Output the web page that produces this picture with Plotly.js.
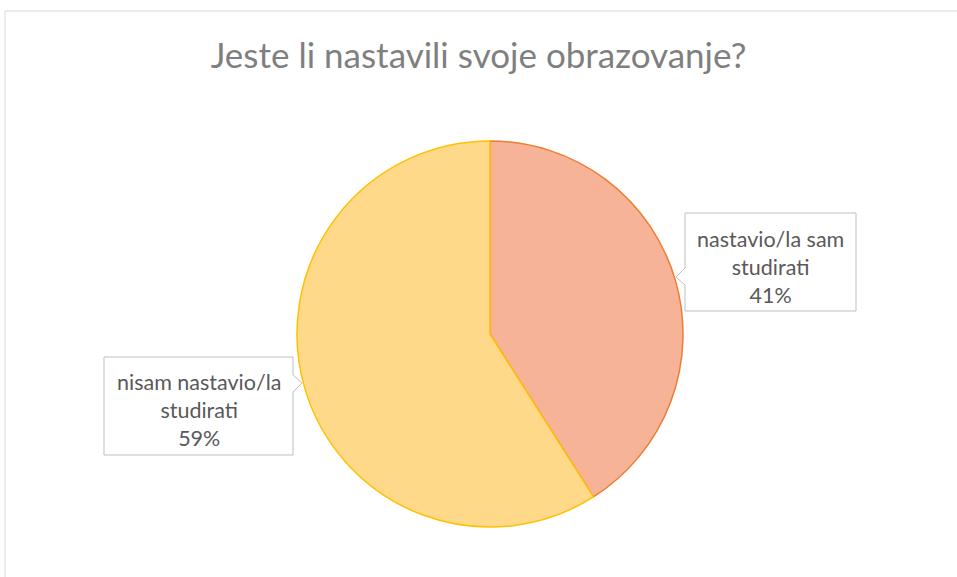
<!DOCTYPE html>
<html>
<head>
<meta charset="utf-8">
<script src="https://cdn.plot.ly/plotly-3.0.1.min.js"></script>
<style>html,body{margin:0;padding:0;background:#fff;}#chart{width:957px;height:577px;}</style>
</head>
<body>
<div id="chart"></div>
<script>
const titleText = "Jeste li nastavili svoje obrazovanje?";
const categories = ["nastavio/la sam<br>studirati", "nisam nastavio/la<br>studirati"];
const values = [41, 59];
const fillColors = ["#F6B398", "#FFD98A"];
const edgeColors = ["#ED7D31", "#FFC000"];

const W = 957, H = 577;
const px = x => x / W;
const py = y => 1 - y / H;

const total = values.reduce((a, b) => a + b, 0);
const pcts = values.map(v => Math.round(v / total * 100) + "%");

const trace = {
  type: "pie",
  values: values,
  labels: categories,
  sort: false,
  direction: "clockwise",
  rotation: 0,
  textinfo: "none",
  hoverinfo: "label+percent",
  marker: { colors: fillColors, line: { color: edgeColors, width: 1.5 } },
  domain: { x: [px(297), px(683)], y: [py(527), py(141)] },
  showlegend: false
};

function callout(pts) {
  return "M " + pts.map(p => px(p[0]) + "," + py(p[1])).join(" L ") + " Z";
}
const box1 = callout([[685,213],[856,213],[856,311],[685,311],[685,285],[676,277],[685,268]]);
const box2 = callout([[104,357],[293,357],[293,375],[302,383],[293,392],[293,455],[104,455]]);

const layout = {
  width: W, height: H,
  margin: { l: 0, r: 0, t: 0, b: 0 },
  paper_bgcolor: "#ffffff",
  title: {
    text: titleText,
    font: { family: "Lato, 'Open Sans', sans-serif", size: 35, color: "#7F7F7F" },
    x: 0.5, xanchor: "center", y: 1 - 56 / H, yanchor: "middle", yref: "container"
  },
  shapes: [
    { type: "rect", xref: "paper", yref: "paper", x0: px(5), x1: px(975), y0: py(600), y1: py(11),
      line: { color: "#D9D9D9", width: 1 }, fillcolor: "rgba(0,0,0,0)", layer: "below" },
    { type: "path", xref: "paper", yref: "paper", path: box1, fillcolor: "#ffffff",
      line: { color: "#BFBFBF", width: 1 }, layer: "above" },
    { type: "path", xref: "paper", yref: "paper", path: box2, fillcolor: "#ffffff",
      line: { color: "#BFBFBF", width: 1 }, layer: "above" }
  ],
  annotations: [
    { xref: "paper", yref: "paper", x: px(770.5), y: py(267), xanchor: "center", yanchor: "middle",
      text: categories[0] + "<br>" + pcts[0], showarrow: false, align: "center",
      font: { family: "Lato, 'Open Sans', sans-serif", size: 21.5, color: "#595959" } },
    { xref: "paper", yref: "paper", x: px(198.5), y: py(410), xanchor: "center", yanchor: "middle",
      text: categories[1] + "<br>" + pcts[1], showarrow: false, align: "center",
      font: { family: "Lato, 'Open Sans', sans-serif", size: 21.5, color: "#595959" } }
  ]
};

Plotly.newPlot("chart", [trace], layout, { displayModeBar: false, staticPlot: true });
</script>
</body>
</html>
